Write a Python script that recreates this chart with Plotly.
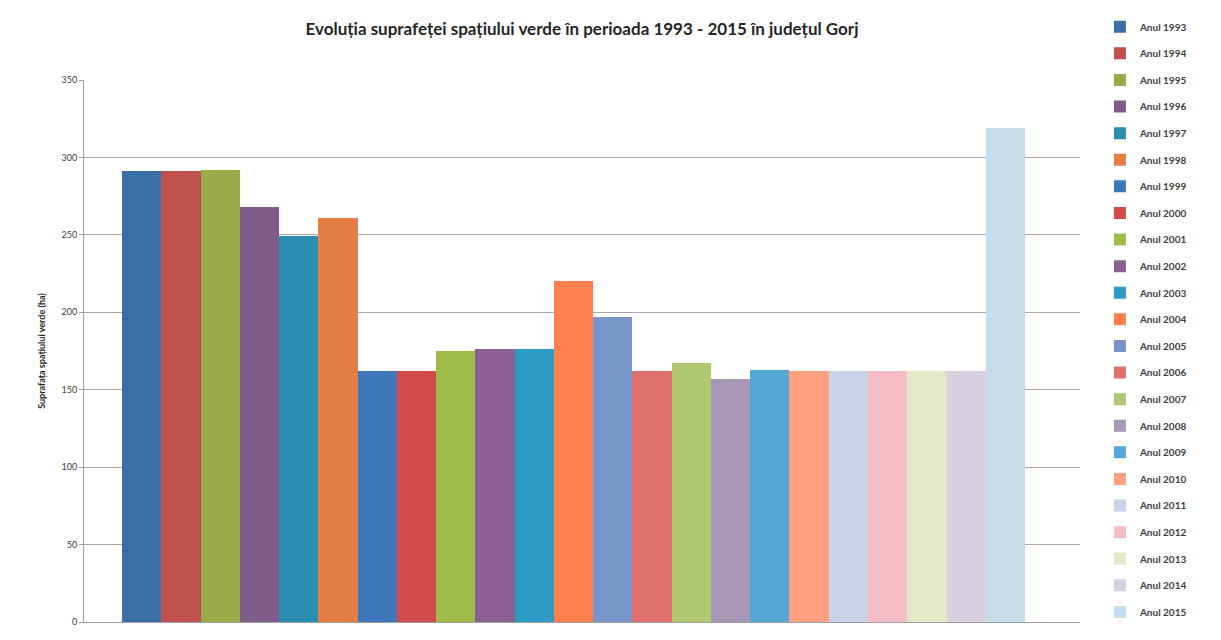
import plotly.graph_objects as go

years = ["Anul 1993", "Anul 1994", "Anul 1995", "Anul 1996", "Anul 1997", "Anul 1998",
         "Anul 1999", "Anul 2000", "Anul 2001", "Anul 2002", "Anul 2003", "Anul 2004",
         "Anul 2005", "Anul 2006", "Anul 2007", "Anul 2008", "Anul 2009", "Anul 2010",
         "Anul 2011", "Anul 2012", "Anul 2013", "Anul 2014", "Anul 2015"]
values = [291, 291, 292, 268, 249, 261, 162, 162, 175, 176, 176, 220,
          197, 162, 167, 157, 163, 162, 162, 162, 162, 162, 319]
colors = ["#3a6ea5", "#c0504d", "#9aac4a", "#7e5c87", "#2b8db0", "#e57d46",
          "#3f77bb", "#d24a4a", "#9fbb4a", "#8a6090", "#2d9ac4", "#ff7f4f",
          "#7795c8", "#e07070", "#b0c870", "#a898b5", "#55a5d5", "#ffa080",
          "#c8d3e8", "#f5bcc5", "#e2e8c8", "#d8d0e0", "#c5dcea"]
y_ticks = [0, 50, 100, 150, 200, 250, 300, 350]

fig = go.Figure()
for name, val, col in zip(years, values, colors):
    fig.add_trace(go.Bar(
        x=[name], y=[val], name=name, width=1,
        marker=dict(color=col, line=dict(width=0)),
        legendgroup=name,
    ))

fig.update_layout(
    width=1221, height=640,
    paper_bgcolor="white", plot_bgcolor="white",
    barmode="overlay", bargap=0,
    margin=dict(l=84, r=141, t=80, b=18),
    font=dict(family="Lato, 'Open Sans', sans-serif", color="#404040"),
    title=dict(
        text="<b>Evoluția suprafeței spațiului verde în perioada 1993 - 2015 în județul Gorj</b>",
        x=0.5, xanchor="center", xref="paper", y=0.955, yanchor="middle",
        font=dict(size=17, color="#262626"),
    ),
    xaxis=dict(
        type="category", range=[-1.47, 23.9], showticklabels=False,
        showgrid=False, zeroline=False, showline=True, linecolor="#a0a0a0",
        linewidth=1,
    ),
    yaxis=dict(
        range=[0, 350], tickvals=y_ticks, ticktext=[str(t) for t in y_ticks],
        showgrid=True, gridcolor="#a6a6a6", gridwidth=1,
        showline=True, linecolor="#a0a0a0", linewidth=1,
        ticks="outside", ticklen=4, tickcolor="#a0a0a0",
        tickfont=dict(size=9, color="#404040"),
        title=dict(text="<b>Suprafața spațiului verde (ha)</b>", font=dict(size=9, color="#262626"), standoff=14),
        zeroline=False,
    ),
    legend=dict(
        x=1.02, xanchor="left", y=1.125, yanchor="top",
        font=dict(size=10, color="#404040", weight="bold"),
        tracegroupgap=7.6, itemwidth=30, bgcolor="rgba(0,0,0,0)",
        traceorder="grouped", maxheight=1.0,
    ),
    showlegend=True,
)

fig.write_html("out.html")
